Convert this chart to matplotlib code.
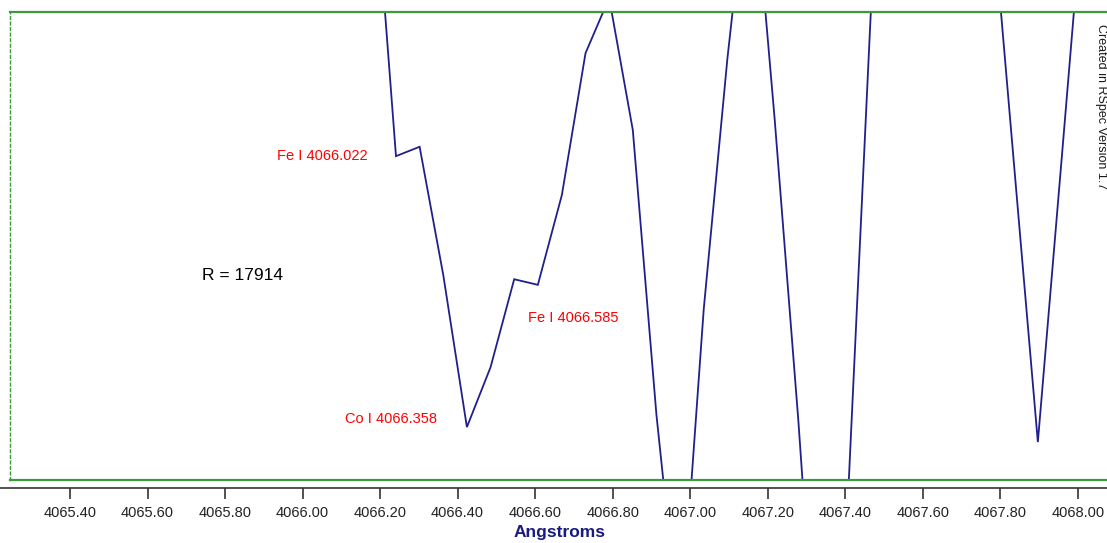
import matplotlib
matplotlib.use("Agg")
import matplotlib.pyplot as plt

# spectrum samples (wavelength in Angstroms, relative intensity; 0..1 is the visible window)
wavelength = [4066.119, 4066.180, 4066.241, 4066.302, 4066.363, 4066.424,
              4066.485, 4066.546, 4066.607, 4066.669, 4066.730, 4066.791,
              4066.852, 4066.913, 4066.974, 4067.035, 4067.096, 4067.157,
              4067.218, 4067.279, 4067.340, 4067.401, 4067.462, 4067.523,
              4067.584, 4067.645, 4067.706, 4067.774, 4067.835, 4067.897,
              4067.959, 4068.021, 4068.083]
intensity = [1.60, 1.355, 0.692, 0.712, 0.438, 0.113,
             0.241, 0.429, 0.417, 0.609, 0.912, 1.03,
             0.748, 0.139, -0.342, 0.365, 0.900, 1.357,
             0.771, 0.128, -0.598, -0.147, 0.929, 1.987,
             2.10, 2.00, 1.90, 1.269, 0.679, 0.081,
             0.692, 1.308, 1.80]

tick_values = [4065.40, 4065.60, 4065.80, 4066.00, 4066.20, 4066.40, 4066.60,
               4066.80, 4067.00, 4067.20, 4067.40, 4067.60, 4067.80, 4068.00]

# line identifications: (label, right edge wavelength, intensity)
line_ids = [("Fe I 4066.022", 4066.169, 0.693),
            ("Co I 4066.358", 4066.347, 0.130),
            ("Fe I 4066.585", 4066.814, 0.346)]
resolution = 17914

W, H = 1107, 543
x_min, x_max = 4065.2452, 4068.0754

fig = plt.figure(figsize=(W / 100, H / 100), dpi=100)
fig.patch.set_facecolor("white")
plt.rcParams["font.family"] = ["Liberation Sans", "DejaVu Sans"]

green = "#3c9a3c"
ax = fig.add_axes([10 / W, 63 / H, 1097 / W, 468 / H])
ax.plot(wavelength, intensity, color="#20208c", lw=1.3, solid_joinstyle="miter")
ax.set_xlim(x_min, x_max)
ax.set_ylim(0, 1)
ax.set_xticks([])
ax.set_yticks([])
for side in ("top", "bottom"):
    ax.spines[side].set_color(green)
    ax.spines[side].set_linewidth(1.6)
ax.spines["left"].set_color(green)
ax.spines["left"].set_linestyle((0, (2, 2)))
ax.spines["left"].set_linewidth(1.0)
ax.spines["right"].set_visible(False)

for text, wl, y in line_ids:
    ax.text(wl, y, text, color="red", fontsize=10.5, ha="right", va="center")
ax.text(4065.740, 0.438, f"R = {resolution}", color="black", fontsize=12.5,
        ha="left", va="center")
fig.text(1101 / W, 1 - 24 / H, "Created in RSpec Version 1.7", rotation=-90,
         ha="center", va="top", fontsize=9, color="#1a1a1a")

# separate wavelength axis below the plot frame
axb = fig.add_axes([0, 55 / H, 1, 1e-4])
axb.set_xlim(x_min - 10 / 387.6, x_min + 1097 / 387.6)
axb.set_ylim(0, 1)
axb.patch.set_alpha(0)
for side in ("top", "left", "right"):
    axb.spines[side].set_visible(False)
axb.spines["bottom"].set_color("#333333")
axb.spines["bottom"].set_linewidth(1.2)
axb.set_yticks([])
axb.set_xticks(tick_values)
axb.set_xticklabels([f"{v:.2f}" for v in tick_values])
axb.tick_params(axis="x", direction="out", length=8, width=1.2,
                color="#333333", labelsize=10.5, labelcolor="#222222", pad=5)
fig.text(560 / W, 1 - 533 / H, "Angstroms", fontsize=12.5, fontweight="bold",
         color="#1a1a80", ha="center", va="center")

fig.savefig("out.png", dpi=100)
